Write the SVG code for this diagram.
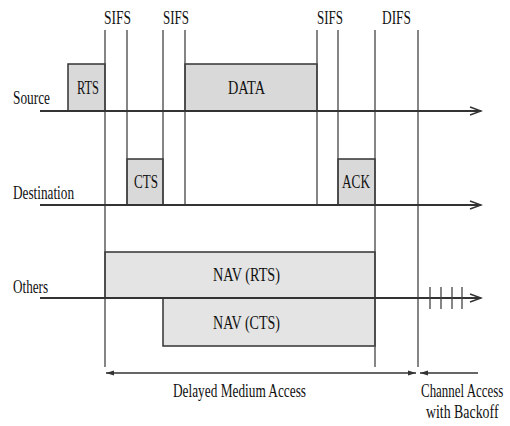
<svg xmlns="http://www.w3.org/2000/svg" width="510" height="426" viewBox="0 0 510 426">
<defs>
<style>
text{font-family:"Liberation Serif","Times New Roman",serif;font-size:18.5px;fill:#111}
.v{stroke:#444;stroke-width:1.3;fill:none}
.ax{stroke:#333;stroke-width:1.8;fill:none}
.frame{fill:#d9d9d9;stroke:#333;stroke-width:1.5}
.nav{fill:#e4e4e4;stroke:#333;stroke-width:1.5}
.chev{stroke:#333;stroke-width:1.4;fill:none}
.dim{stroke:#333;stroke-width:1.3;fill:none}
</style>
<marker id="ah" viewBox="0 0 8 6" refX="8" refY="3" markerWidth="8" markerHeight="6" orient="auto-start-reverse" markerUnits="userSpaceOnUse">
<path d="M0,0.5 L8,3 L0,5.5 Z" fill="#333"/>
</marker>
</defs>
<rect width="510" height="426" fill="#fff"/>

<g id="frames">
<g id="rts"><rect class="frame" x="68" y="64" width="37" height="47"/><text x="77" y="94" textLength="22" lengthAdjust="spacingAndGlyphs">RTS</text></g>
<g id="data"><rect class="frame" x="185" y="64" width="132" height="47"/><text x="228" y="94" textLength="37" lengthAdjust="spacingAndGlyphs">DATA</text></g>
<g id="cts"><rect class="frame" x="127" y="159" width="36" height="46"/><text x="134" y="188" textLength="24" lengthAdjust="spacingAndGlyphs">CTS</text></g>
<g id="ack"><rect class="frame" x="338" y="159" width="37" height="46"/><text x="342" y="188" textLength="28" lengthAdjust="spacingAndGlyphs">ACK</text></g>
<g id="navrts"><rect class="nav" x="105" y="252" width="270" height="46"/><text x="213" y="281" textLength="67" lengthAdjust="spacingAndGlyphs">NAV (RTS)</text></g>
<g id="navcts"><rect class="nav" x="163" y="298" width="212" height="48"/><text x="213" y="329" textLength="67" lengthAdjust="spacingAndGlyphs">NAV (CTS)</text></g>
</g>

<g id="connectors">
<line class="v" x1="105" y1="30" x2="105" y2="367"/>
<line class="v" x1="127" y1="30" x2="127" y2="205"/>
<line class="v" x1="163" y1="30" x2="163" y2="205"/>
<line class="v" x1="185" y1="30" x2="185" y2="205"/>
<line class="v" x1="317" y1="30" x2="317" y2="205"/>
<line class="v" x1="338" y1="30" x2="338" y2="205"/>
<line class="v" x1="375" y1="30" x2="375" y2="367"/>
<line class="v" x1="418" y1="30" x2="418" y2="367"/>

<line class="ax" x1="40" y1="111" x2="481" y2="111"/>
<polyline class="chev" points="470,107 481,111 470,115"/>
<line class="ax" x1="40" y1="205" x2="481" y2="205"/>
<polyline class="chev" points="470,201 481,205 470,209"/>
<line class="ax" x1="40" y1="298" x2="481" y2="298"/>
<polyline class="chev" points="470,294 481,298 470,302"/>

<line class="v" x1="430" y1="287" x2="430" y2="309"/>
<line class="v" x1="441" y1="287" x2="441" y2="309"/>
<line class="v" x1="452" y1="287" x2="452" y2="309"/>
<line class="v" x1="462" y1="287" x2="462" y2="309"/>

<line class="dim" x1="106" y1="373" x2="416" y2="373" marker-start="url(#ah)" marker-end="url(#ah)"/>
<line class="dim" x1="478" y1="373" x2="420" y2="373" marker-end="url(#ah)"/>
</g>

<g id="labels">
<text x="104" y="24" textLength="27" lengthAdjust="spacingAndGlyphs">SIFS</text>
<text x="163" y="24" textLength="26" lengthAdjust="spacingAndGlyphs">SIFS</text>
<text x="317" y="24" textLength="26" lengthAdjust="spacingAndGlyphs">SIFS</text>
<text x="382" y="24" textLength="29" lengthAdjust="spacingAndGlyphs">DIFS</text>
<text x="13" y="104" textLength="37" lengthAdjust="spacingAndGlyphs">Source</text>
<text x="13" y="199" textLength="61" lengthAdjust="spacingAndGlyphs">Destination</text>
<text x="13" y="293" textLength="35" lengthAdjust="spacingAndGlyphs">Others</text>
<text x="173" y="397" textLength="133" lengthAdjust="spacingAndGlyphs">Delayed Medium Access</text>
<text transform="translate(421,397) scale(0.7,1)">Channel Access</text>
<text transform="translate(426,418) scale(0.75,1)">with Backoff</text>
</g>
</svg>
